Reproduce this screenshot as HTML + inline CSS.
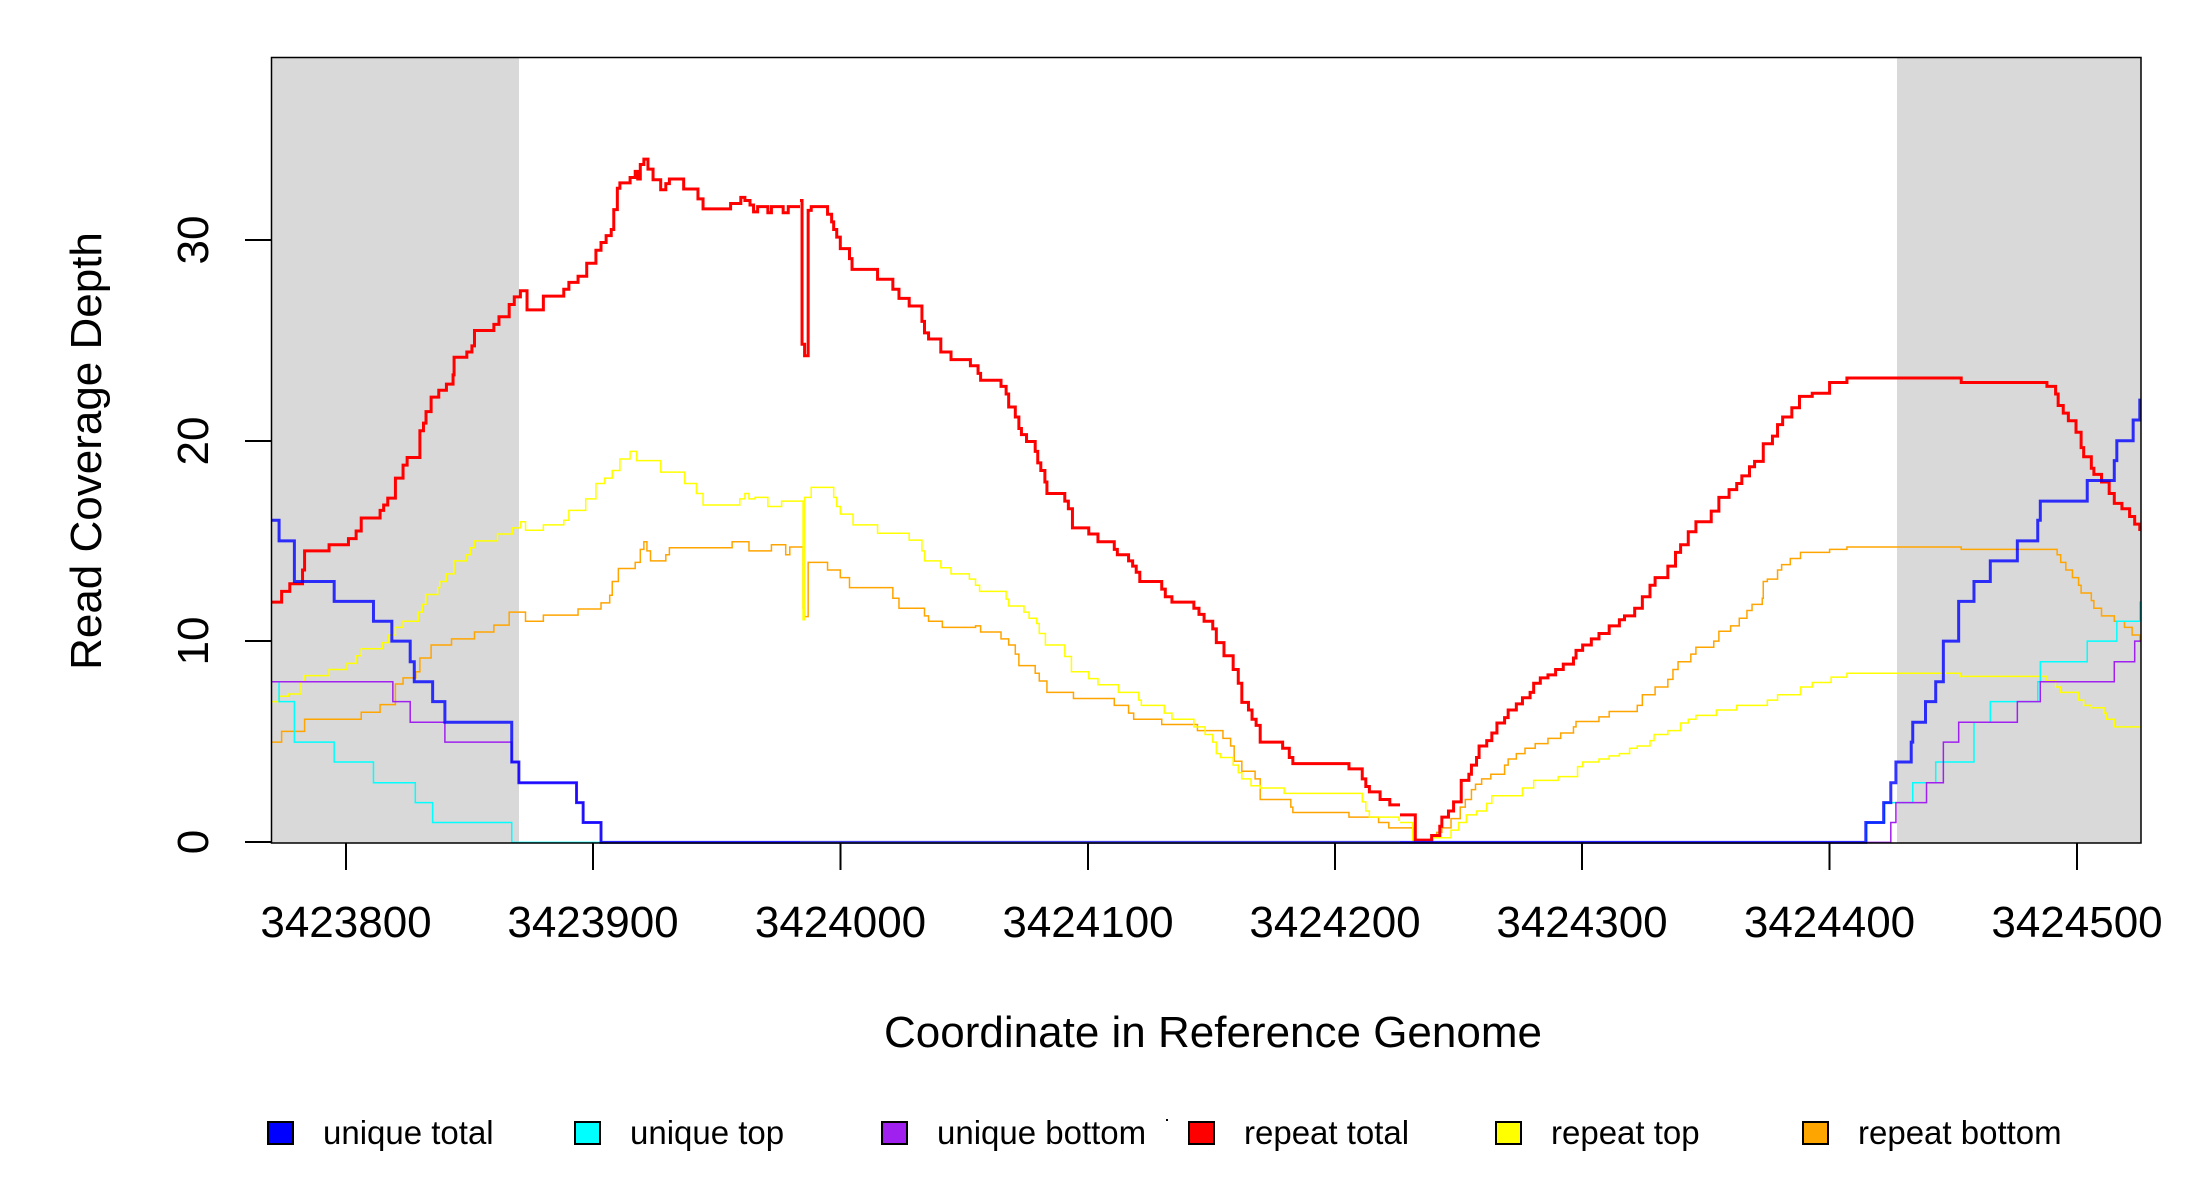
<!DOCTYPE html>
<html><head><meta charset="utf-8"><style>
html,body{margin:0;padding:0;background:#fff;}
svg{display:block;}
text{font-family:"Liberation Sans",Arial,sans-serif;fill:#000;}
</style></head><body>
<svg width="2200" height="1200" viewBox="0 0 2200 1200" xmlns="http://www.w3.org/2000/svg">
<defs>
<clipPath id="c1"><rect x="271" y="57" width="529" height="790"/></clipPath>
<clipPath id="c3"><rect x="800" y="57" width="600" height="790"/></clipPath>
<clipPath id="c2"><rect x="1400" y="57" width="741" height="790"/></clipPath>
</defs>
<rect x="271" y="57" width="248" height="786" fill="#d9d9d9"/>
<rect x="1897" y="57" width="244" height="786" fill="#d9d9d9"/>
<g fill="none" stroke-linejoin="miter">
<g clip-path="url(#c1)"><g transform="scale(0.5102,0.7651)">
<path vector-effect="non-scaling-stroke" stroke="#ffa500" stroke-width="1.5" d="M532 970 H552 V956 H597 V940 H708 V931 H745 V921 H775 V894 H790 V886 H815 V878 H823 V860 H845 V843 H885 V835 H930 V826 H968 V817 H998 V800 H1030 V812 H1065 V804 H1133 V796 H1178 V788 H1195 V778 H1200 V760 H1212 V743 H1245 V735 H1255 V718 H1262 V708 H1268 V720 H1275 V733 H1305 V725 H1312 V716 H1435 V708 H1468 V720 H1512 V712 H1540 V725 H1548 V715 H1600 V708"/>
<path vector-effect="non-scaling-stroke" stroke="#ffff00" stroke-width="1.5" d="M532 917 H547 V910 H565 V907 H590 V891 H596 V883 H645 V875 H680 V867 H698 V857 H708 V848 H750 V840 H762 V830 H775 V820 H790 V812 H820 V800 H828 V790 H835 V777 H858 V768 H862 V760 H875 V750 H890 V733 H915 V725 H922 V716 H930 V707 H975 V698 H1005 V690 H1020 V682 H1030 V693 H1065 V686 H1105 V680 H1115 V667 H1148 V652 H1168 V632 H1185 V625 H1200 V615 H1215 V600 H1235 V590 H1248 V602 H1295 V617 H1342 V632 H1365 V645 H1378 V660 H1450 V652 H1460 V645 H1468 V652 H1480 V650 H1505 V662 H1532 V655 H1600"/>
<path vector-effect="non-scaling-stroke" stroke="#00ffff" stroke-width="1.5" d="M532 891 H547 V917 H577 V970 H655 V996 H732 V1023 H814 V1049 H848 V1075 H1003 V1101 H1600"/>
<path vector-effect="non-scaling-stroke" stroke="#a020f0" stroke-width="1.5" d="M532 891 H770 V917 H804 V944 H872 V970 H1003 V996 H1017 V1023 H1130 V1049 H1143 V1075 H1178 V1101 H1600"/>
<path vector-effect="non-scaling-stroke" stroke="#ff0000" stroke-width="3" d="M532 787 H552 V773 H568 V763 H593 V745 H597 V720 H645 V712 H683 V704 H698 V694 H708 V677 H745 V667 H752 V660 H760 V651 H775 V625 H790 V608 H798 V598 H823 V563 H830 V553 H835 V538 H845 V519 H860 V510 H875 V502 H888 V490 H890 V467 H915 V460 H925 V452 H930 V432 H968 V424 H978 V414 H998 V398 H1008 V388 H1020 V380 H1033 V405 H1065 V387 H1105 V378 H1115 V369 H1133 V361 H1150 V344 H1168 V327 H1178 V317 H1188 V308 H1198 V300 H1203 V274 H1210 V246 H1215 V239 H1235 V232 H1245 V224 H1250 V234 H1255 V215 H1262 V208 H1270 V221 H1280 V235 H1295 V248 H1305 V240 H1312 V234 H1340 V247 H1368 V260 H1378 V273 H1432 V266 H1452 V258 H1460 V262 H1470 V268 H1477 V277 H1485 V270 H1505 V278 H1512 V270 H1535 V278 H1545 V270 H1600 V262"/>
<path vector-effect="non-scaling-stroke" stroke="#0000ff" stroke-width="3" stroke-opacity="0.8" d="M532 680 H547 V707 H577 V760 H655 V786 H732 V812 H768 V838 H804 V865 H812 V891 H848 V917 H872 V944 H1003 V996 H1017 V1023 H1130 V1049 H1143 V1075 H1178 V1101 H1600"/>
</g></g>
<g clip-path="url(#c3)"><g transform="translate(700,0) scale(0.5102,0.7651)">
<path vector-effect="non-scaling-stroke" stroke="#ffa500" stroke-width="1.5" d="M180 715 H202 V795 H205 V806 H212 V735 H250 V745 H275 V755 H293 V768 H378 V782 H390 V795 H440 V805 H448 V812 H475 V820 H540 V818 H550 V826 H590 V835 H605 V843 H618 V855 H625 V870 H657 V880 H665 V890 H680 V905 H732 V913 H812 V922 H840 V932 H850 V940 H905 V947 H975 V955 H1025 V965 H1040 V975 H1047 V995 H1062 V1008 H1088 V1018 H1098 V1045 H1158 V1055 H1162 V1062 H1272 V1068 H1330 V1075 H1350 V1082 H1400"/>
<path vector-effect="non-scaling-stroke" stroke="#ffff00" stroke-width="1.5" d="M180 655 H202 V810 H205 V650 H218 V637 H262 V650 H268 V662 H275 V672 H300 V686 H348 V697 H410 V706 H435 V720 H440 V733 H472 V742 H492 V750 H528 V757 H540 V765 H548 V773 H600 V783 H605 V792 H635 V800 H645 V808 H660 V815 H665 V828 H677 V843 H715 V858 H728 V878 H762 V887 H780 V895 H820 V905 H860 V915 H865 V922 H910 V932 H925 V940 H968 V950 H990 V960 H1005 V970 H1012 V985 H1020 V990 H1045 V1000 H1055 V1010 H1062 V1018 H1080 V1027 H1098 V1030 H1145 V1037 H1298 V1048 H1305 V1060 H1312 V1068 H1370 V1072 H1400"/>
<path vector-effect="non-scaling-stroke" stroke="#ff0000" stroke-width="3" d="M180 262 H200 V450 H205 V465 H212 V275 H218 V270 H250 V280 H258 V290 H262 V300 H268 V310 H275 V325 H293 V338 H298 V352 H348 V365 H378 V378 H390 V390 H410 V400 H435 V420 H440 V435 H448 V443 H472 V460 H492 V470 H530 V478 H545 V488 H550 V497 H590 V505 H600 V515 H605 V532 H618 V545 H625 V560 H630 V568 H640 V577 H657 V590 H662 V605 H668 V615 H676 V630 H680 V645 H715 V655 H722 V665 H730 V690 H762 V698 H780 V708 H812 V718 H818 V725 H840 V733 H848 V740 H855 V748 H862 V760 H905 V770 H912 V780 H925 V787 H968 V795 H978 V803 H988 V812 H1005 V822 H1012 V840 H1027 V857 H1045 V875 H1055 V893 H1062 V918 H1075 V928 H1082 V940 H1090 V948 H1098 V970 H1142 V978 H1155 V990 H1162 V998 H1272 V1005 H1298 V1018 H1305 V1028 H1312 V1035 H1333 V1045 H1352 V1052 H1378 V1065 H1400"/>
<path vector-effect="non-scaling-stroke" stroke="#4040e8" stroke-width="3" d="M180 1101 H1400"/>
</g></g>
<g clip-path="url(#c2)"><g transform="translate(1400,0) scale(0.5102,0.7651)">
<path vector-effect="non-scaling-stroke" stroke="#ffa500" stroke-width="1.5" d="M-10 1082 H28 V1098 H30 V1100 H62 V1095 H72 V1088 H82 V1082 H100 V1070 H118 V1055 H128 V1045 H140 V1032 H148 V1025 H160 V1018 H178 V1012 H205 V1000 H212 V992 H228 V985 H245 V978 H265 V972 H290 V965 H315 V958 H340 V950 H345 V943 H390 V937 H410 V930 H465 V922 H475 V908 H500 V898 H525 V888 H535 V875 H545 V865 H570 V855 H580 V846 H615 V838 H625 V825 H648 V818 H665 V808 H680 V798 H690 V790 H710 V782 H712 V760 H720 V757 H740 V745 H748 V738 H765 V730 H785 V722 H842 V718 H876 V715 H1100 V718 H1288 V725 H1295 V735 H1305 V745 H1318 V755 H1330 V765 H1335 V775 H1355 V785 H1360 V795 H1375 V805 H1400 V812 H1420 V820 H1435 V830 H1450 V838 H1460"/>
<path vector-effect="non-scaling-stroke" stroke="#ffff00" stroke-width="1.5" d="M-10 1075 H25 V1100 H65 V1095 H100 V1085 H115 V1075 H130 V1065 H150 V1060 H170 V1050 H180 V1040 H240 V1030 H262 V1020 H310 V1015 H348 V1002 H358 V996 H390 V992 H410 V988 H430 V985 H450 V978 H465 V975 H490 V968 H498 V960 H525 V955 H550 V945 H565 V940 H580 V935 H620 V928 H660 V922 H720 V915 H740 V908 H785 V898 H808 V892 H845 V885 H876 V880 H1098 V884 H1268 V890 H1285 V898 H1295 V905 H1330 V915 H1340 V922 H1355 V925 H1380 V932 H1385 V940 H1400 V950 H1460 V955"/>
<path vector-effect="non-scaling-stroke" stroke="#00ffff" stroke-width="1.5" d="M-10 1101 H915 V1075 H950 V1049 H1005 V1023 H1050 V996 H1125 V944 H1157 V917 H1250 V891 H1255 V865 H1347 V838 H1405 V812 H1450 V786"/>
<path vector-effect="non-scaling-stroke" stroke="#a020f0" stroke-width="1.5" d="M-10 1101 H962 V1075 H972 V1049 H1032 V1023 H1065 V970 H1095 V944 H1210 V917 H1255 V891 H1400 V865 H1440 V838 H1460"/>
<path vector-effect="non-scaling-stroke" stroke="#ff0000" stroke-width="3" d="M-10 1065 H30 V1098 H62 V1092 H78 V1080 H82 V1068 H95 V1060 H105 V1048 H120 V1020 H135 V1012 H140 V1000 H150 V990 H155 V975 H170 V968 H180 V958 H190 V945 H205 V938 H212 V928 H228 V920 H240 V912 H255 V905 H262 V893 H275 V886 H290 V882 H305 V875 H320 V868 H340 V860 H345 V850 H358 V843 H375 V835 H390 V828 H410 V818 H430 V810 H440 V805 H460 V795 H475 V780 H490 V765 H500 V755 H525 V740 H540 V722 H550 V712 H565 V695 H580 V682 H610 V668 H625 V650 H645 V640 H660 V632 H670 V622 H685 V610 H695 V603 H712 V580 H730 V570 H740 V555 H750 V545 H768 V533 H783 V518 H808 V514 H842 V500 H876 V494 H1100 V500 H1268 V505 H1285 V515 H1290 V530 H1300 V540 H1310 V550 H1325 V565 H1335 V585 H1340 V597 H1355 V612 H1360 V620 H1375 V630 H1390 V645 H1400 V658 H1415 V665 H1430 V675 H1440 V685 H1450 V692 H1460"/>
<path vector-effect="non-scaling-stroke" stroke="#0000ff" stroke-width="3" stroke-opacity="0.8" d="M-10 1101 H913 V1075 H948 V1049 H962 V1023 H972 V996 H1002 V970 H1005 V944 H1030 V917 H1050 V891 H1065 V838 H1095 V786 H1125 V760 H1157 V733 H1210 V707 H1250 V680 H1255 V655 H1347 V628 H1400 V602 H1405 V576 H1437 V549 H1450 V523 H1460"/>
</g></g>
</g>
<rect x="271.5" y="57.5" width="1869.5" height="785.5" fill="none" stroke="#000" stroke-width="1.5"/>
<g stroke="#000" stroke-width="2">
<line x1="245" y1="842" x2="271" y2="842"/>
<line x1="245" y1="641" x2="271" y2="641"/>
<line x1="245" y1="441" x2="271" y2="441"/>
<line x1="245" y1="240" x2="271" y2="240"/>
<line x1="346" y1="843" x2="346" y2="870"/>
<line x1="593" y1="843" x2="593" y2="870"/>
<line x1="840.5" y1="843" x2="840.5" y2="870"/>
<line x1="1088" y1="843" x2="1088" y2="870"/>
<line x1="1335" y1="843" x2="1335" y2="870"/>
<line x1="1582" y1="843" x2="1582" y2="870"/>
<line x1="1829.5" y1="843" x2="1829.5" y2="870"/>
<line x1="2077" y1="843" x2="2077" y2="870"/>
</g>
<g font-size="44" text-anchor="middle">
<text transform="translate(208,842) rotate(-90)">0</text>
<text transform="translate(208,641) rotate(-90)">10</text>
<text transform="translate(208,441) rotate(-90)">20</text>
<text transform="translate(208,240) rotate(-90)">30</text>
<text transform="translate(101,451) rotate(-90)">Read Coverage Depth</text>
<text x="346" y="937">3423800</text>
<text x="593" y="937">3423900</text>
<text x="840.5" y="937">3424000</text>
<text x="1088" y="937">3424100</text>
<text x="1335" y="937">3424200</text>
<text x="1582" y="937">3424300</text>
<text x="1829.5" y="937">3424400</text>
<text x="2077" y="937">3424500</text>
<text x="1213" y="1047">Coordinate in Reference Genome</text>
</g>
<g stroke="#000" stroke-width="2">
<rect x="268" y="1122" width="25" height="22" fill="#0000ff"/>
<rect x="575" y="1122" width="25" height="22" fill="#00ffff"/>
<rect x="882" y="1122" width="25" height="22" fill="#a020f0"/>
<rect x="1189" y="1122" width="25" height="22" fill="#ff0000"/>
<rect x="1496" y="1122" width="25" height="22" fill="#ffff00"/>
<rect x="1803" y="1122" width="25" height="22" fill="#ffa500"/>
</g>
<rect x="1166" y="1119" width="2" height="2" fill="#000"/>
<g font-size="33">
<text x="323" y="1144">unique total</text>
<text x="630" y="1144">unique top</text>
<text x="937" y="1144">unique bottom</text>
<text x="1244" y="1144">repeat total</text>
<text x="1551" y="1144">repeat top</text>
<text x="1858" y="1144">repeat bottom</text>
</g>
</svg>
</body></html>
